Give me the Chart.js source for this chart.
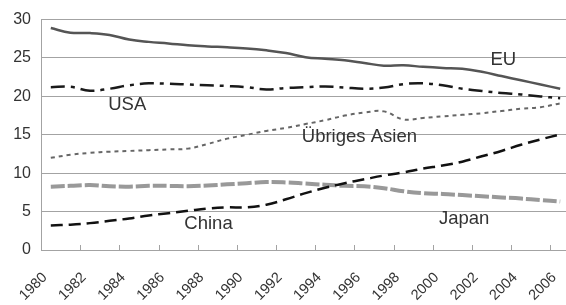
<!DOCTYPE html>
<html>
<head>
<meta charset="utf-8">
<script src="https://cdn.jsdelivr.net/npm/chart.js@4/dist/chart.umd.min.js"></script>
<style>
  html, body { margin: 0; padding: 0; background: #fff; overflow: hidden; }
  #wrap { width: 572px; height: 305px; }
</style>
</head>
<body>
<div id="wrap"><canvas id="mainChart" width="572" height="305"></canvas></div>
<script>
// Data
const years = [];
for (let y = 1980; y <= 2006; y++) years.push(String(y));

const euValues = [28.9, 28.3, 28.25, 28.0, 27.4, 27.1, 26.9, 26.65, 26.5, 26.4, 26.25, 26.0, 25.65,
    25.1, 24.9, 24.7, 24.35, 24.0, 24.05, 23.85, 23.7, 23.6, 23.2, 22.65, 22.1, 21.55, 21.0];
const usaValues = [21.2, 21.25, 20.75, 21.0, 21.45, 21.7, 21.65, 21.55, 21.45, 21.35, 21.2, 20.9, 21.1,
    21.2, 21.3, 21.15, 21.0, 21.15, 21.6, 21.7, 21.45, 21.0, 20.7, 20.45, 20.25, 20.0, 19.75];
const asiaValues = [12.0, 12.4, 12.65, 12.8, 12.9, 13.0, 13.1, 13.2, 13.8, 14.5, 15.0, 15.5, 15.9,
    16.4, 16.9, 17.5, 17.9, 18.05, 17.0, 17.2, 17.4, 17.6, 17.8, 18.1, 18.4, 18.6, 19.1];
const chinaValues = [3.2, 3.3, 3.5, 3.8, 4.1, 4.5, 4.8, 5.1, 5.4, 5.55, 5.55, 5.9, 6.6,
    7.4, 8.1, 8.7, 9.2, 9.7, 10.1, 10.6, 11.0, 11.5, 12.2, 12.9, 13.7, 14.4, 15.05];
const japanValues = [8.25, 8.35, 8.45, 8.3, 8.25, 8.35, 8.35, 8.3, 8.4, 8.55, 8.7, 8.85, 8.8,
    8.65, 8.5, 8.35, 8.3, 8.05, 7.65, 7.4, 7.3, 7.15, 7.0, 6.85, 6.7, 6.5, 6.3];

const yTicks = [0, 5, 10, 15, 20, 25, 30];

// Series names written inside the plot (x as year index, y as value)
const seriesLabels = [
    { text: 'EU', x: 23.1, y: 24.1 },
    { text: 'USA', x: 3.9, y: 18.2 },
    { text: 'Übriges Asien', x: 15.75, y: 14.1 },
    { text: 'China', x: 8.05, y: 2.7 },
    { text: 'Japan', x: 21.1, y: 3.45 }
];

const FONT = '"Liberation Sans", Arial, sans-serif';
const GRID = '#a3a3a3';

// Small inward tick marks every two years, and the series names
const extrasPlugin = {
    id: 'extras',
    afterDatasetsDraw(chart) {
        const ctx = chart.ctx;
        const xs = chart.scales.x;
        const ys = chart.scales.y;
        const bottom = chart.chartArea.bottom;
        ctx.save();
        ctx.strokeStyle = GRID;
        ctx.lineWidth = 1;
        for (let i = 2; i <= years.length; i += 2) {
            const px = Math.round(xs.getPixelForValue(i - 0.5)) + 0.5;
            ctx.beginPath();
            ctx.moveTo(px, bottom);
            ctx.lineTo(px, bottom - 5);
            ctx.stroke();
        }
        ctx.fillStyle = '#333';
        ctx.font = '18.5px ' + FONT;
        ctx.textAlign = 'center';
        ctx.textBaseline = 'alphabetic';
        seriesLabels.forEach(l => {
            ctx.fillText(l.text, xs.getPixelForValue(l.x), ys.getPixelForValue(l.y));
        });
        ctx.restore();
    }
};

function line(data, color, width, dash) {
    return {
        data: data,
        borderColor: color,
        borderWidth: width,
        borderDash: dash,
        borderCapStyle: 'butt',
        pointRadius: 0,
        tension: 0.4,
        fill: false
    };
}

const ctx = document.getElementById('mainChart').getContext('2d');
new Chart(ctx, {
    type: 'line',
    data: {
        labels: years,
        datasets: [
            line(euValues, '#555555', 2.5, []),
            line(usaValues, '#1a1a1a', 2.5, [14, 6, 4, 6]),
            line(asiaValues, '#666666', 2, [4, 4]),
            line(chinaValues, '#111111', 2.5, [12, 6]),
            line(japanValues, '#999999', 4, [14, 3])
        ]
    },
    options: {
        responsive: false,
        devicePixelRatio: 1,
        animation: false,
        layout: { padding: { top: 16, right: 2, left: 0, bottom: 0 } },
        plugins: {
            legend: { display: false },
            tooltip: { enabled: false }
        },
        scales: {
            x: {
                offset: true,
                grid: { display: false },
                border: { display: true, color: GRID, width: 1 },
                ticks: {
                    autoSkip: false,
                    maxRotation: 45,
                    minRotation: 45,
                    padding: 11,
                    labelOffset: -6,
                    color: '#333',
                    font: { family: FONT, size: 14.5 },
                    callback: (v, i) => (i % 2 === 0 ? years[i] : '')
                },
                afterFit: s => {
                    s.height = 55;
                    s.paddingLeft = 0;
                    s.paddingRight = 0;
                }
            },
            y: {
                min: 0,
                max: 30,
                grid: { color: GRID, lineWidth: 1, drawTicks: false },
                border: { display: true, color: GRID, width: 1 },
                afterBuildTicks: s => { s.ticks = yTicks.map(v => ({ value: v })); },
                ticks: {
                    padding: 10,
                    color: '#333',
                    font: { family: FONT, size: 16 }
                },
                afterFit: s => { s.width = 41; }
            }
        }
    },
    plugins: [extrasPlugin]
});
</script>
</body>
</html>
